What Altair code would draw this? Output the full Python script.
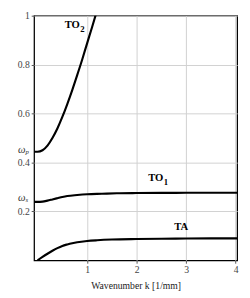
import altair as alt
import pandas as pd

# TO2 branch
k_to2 = [-0.07, 0.0, 0.1, 0.2, 0.3, 0.4, 0.5, 0.6, 0.7, 0.8, 0.9, 1.0, 1.1, 1.2]
w_to2 = [0.444, 0.444, 0.450, 0.469, 0.500, 0.539, 0.586, 0.639, 0.696, 0.757, 0.820, 0.887, 0.953, 1.021]

# TO1 branch
k_to1 = [-0.07, 0.0, 0.1, 0.2, 0.3, 0.4, 0.5, 0.6, 0.8, 1.0, 1.3, 1.6, 2.0, 2.5, 3.0, 3.5, 4.03]
w_to1 = [0.239, 0.239, 0.240, 0.244, 0.249, 0.254, 0.259, 0.263, 0.267, 0.270, 0.272, 0.274, 0.275, 0.2755, 0.276, 0.276, 0.276]

# TA branch
k_ta = [0.0, 0.1, 0.2, 0.3, 0.4, 0.5, 0.6, 0.7, 0.8, 1.0, 1.2, 1.5, 2.0, 2.5, 3.0, 3.5, 4.03]
w_ta = [0.0, 0.014, 0.027, 0.039, 0.050, 0.059, 0.065, 0.070, 0.074, 0.079, 0.082, 0.085, 0.087, 0.088, 0.089, 0.0895, 0.090]

# branch labels: main text and subscript
branch_main = ["TO", "TO", "TA"]
branch_sub = ["2", "1", ""]
label_k = [0.854, 2.54, 3.04]
label_w = [0.962, 0.335, 0.137]

omega_main = ["ω", "ω"]
omega_sub = ["p", "s"]
omega_values = [0.444, 0.245]

x_ticks = [1, 2, 3, 4]
y_ticks = [0.2, 0.4, 0.6, 0.8, 1]

rows = []
for name, ks, ws in [("TO2", k_to2, w_to2), ("TO1", k_to1, w_to1), ("TA", k_ta, w_ta)]:
    for i, (k, w) in enumerate(zip(ks, ws)):
        rows.append({"branch": name, "k": k, "w": w, "order": i})
df = pd.DataFrame(rows)

labels_df = pd.DataFrame({"main": branch_main, "sub": branch_sub, "k": label_k, "w": label_w})
omega_df = pd.DataFrame({"main": omega_main, "sub": omega_sub, "w": omega_values})

FONT = "Liberation Serif, Times New Roman, DejaVu Serif, serif"

xscale = alt.Scale(domain=[-0.07, 4.03], nice=False, zero=False)
yscale = alt.Scale(domain=[0, 1.0], nice=False, zero=False)

lines = alt.Chart(df).mark_line(
    color="black", strokeWidth=2.2, interpolate="monotone", clip=True
).encode(
    x=alt.X("k:Q", scale=xscale,
            axis=alt.Axis(values=x_ticks, format="~g", title="Wavenumber k [1/mm]", grid=True,
                          gridColor="#d0d0d0", gridWidth=1, domain=False,
                          tickSize=3, tickColor="#555", labelFont=FONT, labelFontSize=10,
                          labelColor="#444", labelPadding=2, titleFont=FONT,
                          titleFontSize=10, titleFontWeight="normal", titleColor="#222",
                          titlePadding=6)),
    y=alt.Y("w:Q", scale=yscale,
            axis=alt.Axis(values=y_ticks, title=None, format="~g", grid=True,
                          gridColor="#d0d0d0", gridWidth=1, domain=False,
                          tickSize=3, tickColor="#555", labelFont=FONT, labelFontSize=10,
                          labelColor="#444", labelPadding=2)),
    detail="branch:N",
    order="order:Q",
)

texts_main = alt.Chart(labels_df).mark_text(
    font=FONT, fontSize=11, fontWeight="bold", color="black", align="right"
).encode(
    x=alt.X("k:Q", scale=xscale),
    y=alt.Y("w:Q", scale=yscale),
    text="main:N",
)

texts_sub = alt.Chart(labels_df).mark_text(
    font=FONT, fontSize=9, fontWeight="bold", color="black", align="left", dx=0.5, dy=4
).encode(
    x=alt.X("k:Q", scale=xscale),
    y=alt.Y("w:Q", scale=yscale),
    text="sub:N",
)

omegas_main = alt.Chart(omega_df).mark_text(
    font=FONT, fontSize=11, fontStyle="italic", color="#333", align="right", dy=-2
).encode(
    x=alt.value(-9),
    y=alt.Y("w:Q", scale=yscale),
    text="main:N",
)

omegas_sub = alt.Chart(omega_df).mark_text(
    font=FONT, fontSize=7, fontStyle="italic", color="#333", align="left", dy=0
).encode(
    x=alt.value(-9),
    y=alt.Y("w:Q", scale=yscale),
    text="sub:N",
)

chart = alt.layer(lines, texts_main, texts_sub, omegas_main, omegas_sub).properties(
    width=210, height=253,
    autosize=alt.AutoSizeParams(type="none"),
    padding={"left": 27, "top": 3, "right": 5, "bottom": 34},
).configure_view(stroke="black", strokeWidth=1.3)

chart.save("out.html", embed_options={"renderer": "svg", "actions": False})
